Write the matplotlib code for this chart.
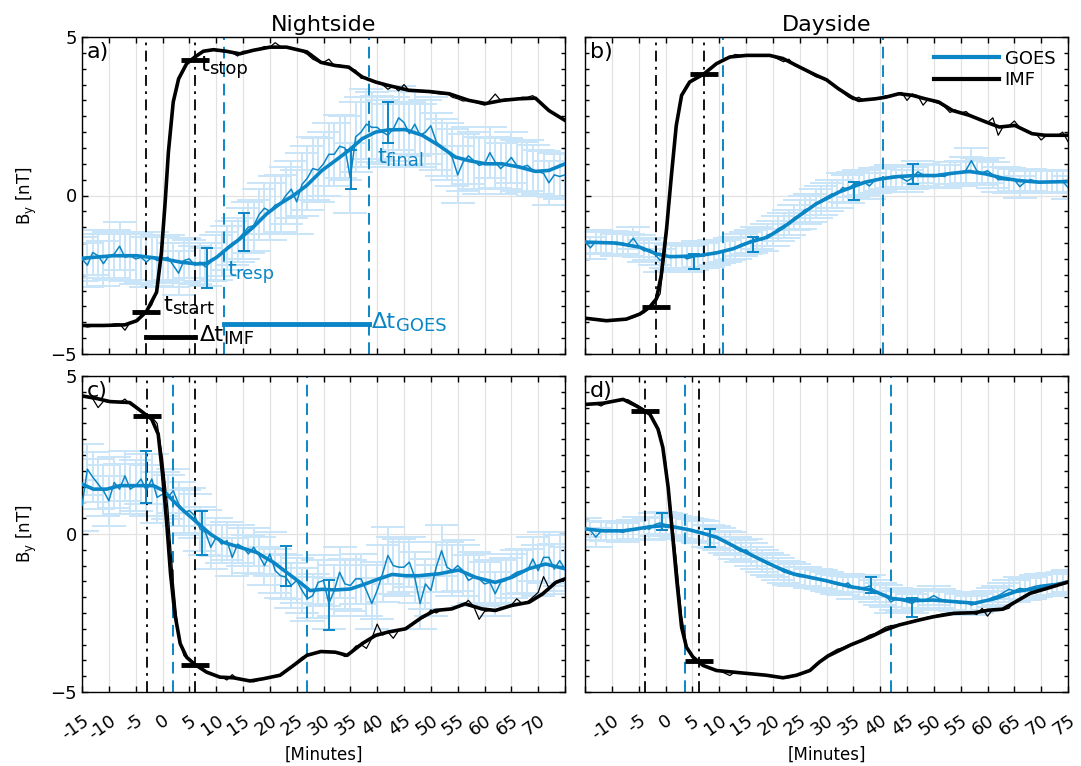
import matplotlib
matplotlib.use('Agg')
import matplotlib.pyplot as plt
from matplotlib.lines import Line2D
import numpy as np

plt.rcParams['mathtext.default'] = 'regular'
plt.rcParams['font.family'] = 'DejaVu Sans'

BLUE = '#0a86c6'
LIGHT = '#c9e5f7'

minutes = list(range(-15, 76))

# ---------------- panel a (nightside, By -> +) ----------------
a_imf_raw = [-4.1, -4.15, -4.12, -4.1, -4.08, -4.1, -4.05, -4.05, -4.25, -4.0,
             -3.95, -3.85, -3.68, -3.45, -3.0, -1.4, 1.1, 2.95, 3.68, 4.05,
             4.25, 4.4, 4.5, 4.58, 4.6, 4.57, 4.55, 4.52, 4.5, 4.4,
             4.55, 4.55, 4.6, 4.62, 4.7, 4.68, 4.82, 4.7, 4.68, 4.65,
             4.6, 4.55, 4.45, 4.3, 4.22, 4.2, 4.3, 4.1, 4.12, 4.05,
             4.0, 3.95, 3.7, 3.7, 3.6, 3.55, 3.5, 3.35, 3.45, 3.3,
             3.5, 3.3, 3.3, 3.28, 3.3, 3.25, 3.22, 3.2, 3.22, 3.1,
             3.05, 2.98, 3.0, 2.95, 2.9, 2.85, 3.0, 3.2, 3.0, 3.05,
             3.0, 3.05, 3.1, 3.1, 3.15, 3.0, 2.85, 2.7, 2.55, 2.45, 2.4]
a_goes_raw = [-2.0, -2.2, -1.8, -1.9, -2.15, -1.9, -1.85, -1.6, -1.95, -1.9,
              -2.0, -1.95, -2.1, -1.95, -2.05, -2.0, -1.95, -2.2, -2.45, -2.05,
              -2.0, -2.2, -2.1, -2.25, -2.1, -1.95, -1.85, -1.65, -1.5, -1.4,
              -1.2, -1.0, -0.95, -0.6, -0.4, -0.5, -0.3, -0.25, 0.0, 0.2,
              -0.2, 0.35, 0.55, 0.85, 0.8, 1.0, 1.3, 1.3, 1.55, 1.5,
              0.55, 1.85, 2.0, 2.25, 2.15, 2.15, 2.0, 1.9, 2.1, 2.45,
              2.3, 1.95, 2.25, 1.9, 2.0, 2.2, 1.7, 1.5, 1.4, 1.2,
              0.65, 1.05, 1.25, 1.1, 0.95, 1.0, 1.35, 1.05, 0.85, 1.0,
              1.2, 0.95, 0.9, 0.95, 0.8, 0.75, 0.7, 0.4, 0.65, 0.6, 0.65]
a_goes_err5 = [0.7, 0.75, 0.8, 0.7, 0.6, 0.7, 0.8, 0.9, 1.0, 1.0,
               1.1, 1.0, 1.0, 0.9, 0.9, 0.8, 0.8, 0.7, 0.7]
a_imf_t = [-15, -11, -7, -4.8, -3, -1.1, -0.2, 0.5, 1.1, 2.0, 3.0, 4.5, 6.05, 7.6,
           9.5, 11.9, 14.4, 16.9, 20, 23.1, 26.9, 29.5, 32.2, 34.7, 37.2, 39.7,
           42.1, 45.9, 49.7, 53.4, 57.1, 60.2, 63.3, 66.4, 69.5, 72, 75]
a_imf_s = [-4.1, -4.1, -4.08, -3.95, -3.66, -3.05, -1.8, -0.2, 1.37, 2.95, 3.68,
           4.16, 4.37, 4.55, 4.6, 4.55, 4.47, 4.58, 4.68, 4.68, 4.53, 4.2, 4.1,
           4.05, 3.74, 3.58, 3.47, 3.32, 3.28, 3.21, 3.0, 2.9, 3.0, 3.05, 3.07,
           2.68, 2.37]
a_goes_t = [-15, -9.2, -4.8, 0.2, 3.3, 6.4, 8.2, 10.1, 12, 14.4, 16.9, 19.4, 21.9,
            24.4, 26.9, 29.7, 32.2, 34.7, 37.2, 39.7, 42.1, 45.2, 48.4, 51.5,
            54.6, 57.1, 60.2, 63.3, 66.4, 69.5, 72, 75]
a_goes_s = [-1.98, -1.9, -1.9, -2.0, -2.1, -2.16, -2.14, -1.95, -1.68, -1.37, -1.0,
            -0.58, -0.26, 0.0, 0.32, 0.79, 1.1, 1.42, 1.79, 2.0, 2.07, 2.08, 1.9,
            1.58, 1.21, 1.1, 1.0, 1.0, 0.9, 0.76, 0.79, 1.0]
a_bar_t = [8.2, 15.1, 35.1, 42.1]
a_bar_y = [-2.28, -1.14, 0.82, 2.3]
a_bar_e = [0.63, 0.6, 0.63, 0.64]
a_times = [-3.0, 6.05, 11.5, 38.4]      # t_start, t_stop, t_resp, t_final
a_marks = [-3.66, 4.28]

# ---------------- panel b (dayside, By -> +) ----------------
b_imf_raw = [-3.87, -3.9, -3.92, -3.95, -3.97, -3.95, -3.93, -3.92, -3.9, -3.85,
             -3.78, -3.7, -3.55, -3.4, -3.1, -1.6, 0.4, 2.2, 3.16, 3.5,
             3.65, 3.75, 3.82, 3.95, 4.1, 4.22, 4.32, 4.37, 4.45, 4.42,
             4.42, 4.43, 4.42, 4.42, 4.42, 4.38, 4.3, 4.22, 4.3, 4.1,
             4.05, 3.95, 3.85, 3.75, 3.7, 3.62, 3.5, 3.4, 3.25, 3.12,
             3.02, 3.1, 3.0, 3.05, 3.03, 3.05, 3.15, 3.12, 3.2, 3.25,
             3.0, 3.2, 3.15, 2.85, 3.05, 2.95, 2.9, 2.8, 2.62, 2.7,
             2.6, 2.65, 2.5, 2.42, 2.35, 2.3, 2.45, 1.9, 2.2, 2.2,
             2.35, 2.15, 2.05, 1.95, 1.95, 1.75, 1.9, 1.9, 1.88, 2.0, 1.7]
b_goes_raw = [-1.45, -1.65, -1.45, -1.5, -1.5, -1.48, -1.55, -1.5, -1.55, -1.35,
              -1.6, -1.75, -1.7, -1.85, -2.05, -1.9, -1.95, -1.92, -1.9, -2.0,
              -1.95, -1.85, -1.9, -1.85, -1.8, -1.78, -1.75, -1.7, -1.65, -1.55,
              -1.5, -1.45, -1.35, -1.4, -1.25, -1.2, -1.05, -0.95, -0.85, -0.7,
              -0.6, -0.45, -0.4, -0.25, -0.15, -0.05, 0.05, 0.05, 0.25, 0.2,
              0.35, 0.4, 0.42, 0.3, 0.48, 0.5, 0.55, 0.6, 0.62, 0.55,
              0.45, 0.55, 0.75, 0.65, 0.62, 0.6, 0.62, 0.6, 0.7, 0.72,
              0.7, 0.8, 1.1, 0.78, 0.72, 0.78, 0.65, 0.5, 0.5, 0.48,
              0.5, 0.28, 0.42, 0.5, 0.45, 0.42, 0.42, 0.43, 0.44, 0.45, 0.25]
b_goes_err5 = [0.35, 0.35, 0.35, 0.4, 0.4, 0.35, 0.35, 0.4, 0.45, 0.45,
               0.4, 0.35, 0.35, 0.35, 0.4, 0.4, 0.35, 0.35, 0.35]
b_imf_t = [-15, -11, -7.3, -4.8, -3, -1.7, -0.8, 0.2, 1.1, 2.0, 3.0, 4.5, 7.2, 9.5,
           12, 15.1, 19.4, 21.9, 25, 28.1, 30, 32.2, 34.7, 36, 39.1, 41, 43.5, 46,
           48.4, 50.9, 53.5, 56.6, 59.7, 62.2, 65.1, 68.3, 70.7, 73.2, 75]
b_imf_s = [-3.87, -3.95, -3.9, -3.74, -3.53, -3.26, -2.53, -1.05, 0.63, 2.2, 3.16,
           3.58, 3.84, 4.16, 4.37, 4.42, 4.42, 4.32, 4.05, 3.79, 3.65, 3.37, 3.1,
           3.0, 3.05, 3.1, 3.21, 3.16, 3.05, 2.95, 2.68, 2.53, 2.32, 2.16, 2.21,
           1.95, 1.9, 1.9, 1.9]
b_goes_t = [-15, -9.2, -4.8, -1.7, 0.8, 3.3, 6.4, 9.5, 12.6, 15.7, 18.9, 22, 25,
            28.1, 30, 32.2, 34.7, 37.2, 40.3, 43.5, 46.6, 50.4, 53.4, 56.6, 59.7,
            62.8, 65.9, 69.6, 75]
b_goes_s = [-1.47, -1.5, -1.63, -1.84, -1.93, -1.92, -1.89, -1.81, -1.68, -1.47,
            -1.32, -1.0, -0.63, -0.26, -0.1, 0.1, 0.26, 0.42, 0.53, 0.6, 0.63, 0.63,
            0.7, 0.76, 0.68, 0.55, 0.47, 0.42, 0.44]
b_bar_t = [5.3, 16.3, 35.1, 46.2]
b_bar_y = [-2.08, -1.55, 0.15, 0.68]
b_bar_e = [0.24, 0.24, 0.29, 0.32]
b_times = [-1.8, 7.2, 10.7, 40.5]
b_marks = [-3.53, 3.84]

# ---------------- panel c (nightside, By -> -) ----------------
c_imf_raw = [4.37, 4.32, 4.28, 4.0, 4.2, 4.18, 4.17, 4.16, 4.27, 4.1,
             4.0, 3.9, 3.78, 3.7, 3.5, 2.4, 0.8, -1.5, -3.3, -3.85,
             -4.0, -4.13, -4.25, -4.35, -4.45, -4.5, -4.52, -4.62, -4.45, -4.6,
             -4.6, -4.65, -4.68, -4.62, -4.58, -4.55, -4.5, -4.48, -4.35, -4.2,
             -4.05, -3.9, -3.85, -3.8, -3.72, -3.7, -3.72, -3.75, -3.78, -3.88,
             -3.75, -3.55, -3.5, -3.62, -3.3, -2.85, -3.2, -3.1, -3.3, -3.05,
             -3.0, -2.9, -2.8, -2.7, -2.62, -2.4, -2.5, -2.4, -2.38, -2.35,
             -2.3, -2.25, -2.1, -2.3, -2.7, -2.45, -2.42, -2.42, -2.35, -2.3,
             -2.25, -2.05, -2.2, -2.15, -2.0, -1.85, -1.35, -1.7, -1.55, -1.48, -1.42]
c_goes_raw = [0.9, 2.05, 1.8, 1.58, 1.37, 1.05, 1.63, 1.42, 1.84, 1.42,
              1.53, 1.74, 1.37, 1.74, 1.16, 1.26, 1.16, 1.37, 0.95, 0.68,
              0.74, 0.58, 0.16, 0.05, -0.42, -0.1, -0.32, -0.21, -0.74, -0.32,
              -0.42, -0.63, -0.42, -0.68, -1.0, -0.63, -1.16, -1.32, -1.37, -1.63,
              -1.47, -1.79, -2.05, -1.95, -1.53, -1.47, -2.2, -1.79, -1.21, -1.58,
              -1.63, -1.42, -1.42, -1.79, -2.2, -1.79, -1.26, -0.68, -1.0, -1.05,
              -1.05, -0.89, -1.37, -2.2, -1.58, -1.79, -1.05, -0.53, -1.05, -1.16,
              -1.0, -1.16, -1.47, -1.37, -1.42, -1.58, -1.53, -1.89, -1.53, -1.47,
              -1.32, -1.21, -1.16, -1.16, -0.79, -1.16, -0.74, -0.74, -1.11, -0.84, -1.11]
c_goes_err5 = [0.8, 0.8, 0.8, 0.7, 0.7, 0.6, 0.6, 0.7, 0.7, 0.8,
               0.8, 0.9, 0.8, 0.8, 0.8, 0.7, 0.7, 0.8, 0.7]
c_imf_t = [-15, -12.3, -9.8, -6.1, -3.6, -2.0, -0.8, 0.0, 0.8, 1.5, 2.3, 3.3, 4.5,
           6.05, 8.2, 10.7, 13.2, 16.3, 18.8, 21.9, 24.4, 26.9, 29.5, 32.2, 34.4,
           37.2, 39.7, 42.1, 45.3, 48.4, 50.8, 53.9, 56.4, 59.5, 62, 65.1, 68.3,
           70.8, 73.3, 75]
c_imf_s = [4.37, 4.29, 4.19, 4.16, 3.84, 3.63, 3.16, 1.9, 0.32, -1.26, -2.53, -3.47,
           -3.9, -4.13, -4.37, -4.53, -4.55, -4.65, -4.58, -4.47, -4.16, -3.84,
           -3.72, -3.74, -3.84, -3.47, -3.21, -3.1, -3.0, -2.63, -2.42, -2.37,
           -2.21, -2.37, -2.42, -2.26, -2.16, -1.9, -1.53, -1.42]
c_goes_t = [-15, -12.9, -10.4, -7.9, -4.8, -1.7, 0.2, 2.0, 3.9, 6.4, 8.9, 11.3,
            14.4, 17.5, 20.6, 23.1, 25.6, 27.5, 29.8, 32.2, 35, 37.8, 40.3, 42.8,
            45.3, 47.7, 51.5, 55.2, 58.3, 62, 65.1, 68.2, 71.4, 75]
c_goes_s = [1.58, 1.42, 1.42, 1.53, 1.53, 1.53, 1.37, 1.05, 0.74, 0.37, 0.0, -0.26,
            -0.42, -0.58, -0.89, -1.21, -1.53, -1.79, -1.75, -1.77, -1.74, -1.58,
            -1.42, -1.28, -1.32, -1.32, -1.26, -1.14, -1.37, -1.53, -1.37, -1.1,
            -0.95, -1.1]
c_bar_t = [-3.0, 7.3, 23.1, 31.1]
c_bar_y = [1.8, 0.04, -1.0, -2.26]
c_bar_e = [0.83, 0.7, 0.63, 0.79]
c_times = [-2.95, 6.05, 2.0, 27.0]
c_marks = [3.74, -4.13]

# ---------------- panel d (dayside, By -> -) ----------------
d_imf_raw = [4.1, 4.12, 4.12, 4.05, 4.15, 4.2, 4.22, 4.26, 4.25, 4.15,
             4.05, 3.95, 3.8, 3.55, 3.2, 2.3, 0.8, -0.8, -2.6, -3.6,
             -3.85, -4.02, -4.16, -4.25, -4.3, -4.32, -4.4, -4.48, -4.35, -4.4,
             -4.42, -4.42, -4.45, -4.47, -4.48, -4.5, -4.52, -4.55, -4.55, -4.5,
             -4.45, -4.35, -4.3, -4.12, -4.0, -3.85, -3.75, -3.65, -3.6, -3.52,
             -3.45, -3.4, -3.3, -3.2, -3.15, -3.05, -2.95, -2.9, -2.88, -2.85,
             -2.8, -2.75, -2.72, -2.68, -2.62, -2.6, -2.55, -2.52, -2.5, -2.5,
             -2.48, -2.5, -2.48, -2.55, -2.35, -2.6, -2.38, -2.38, -2.4, -2.35,
             -2.15, -2.05, -1.95, -1.85, -1.8, -1.72, -1.68, -1.6, -1.62, -1.55, -1.5]
d_goes_raw = [0.2, 0.12, -0.1, 0.1, 0.08, 0.1, 0.12, 0.05, 0.12, 0.15,
              0.18, 0.2, 0.15, 0.3, 0.35, 0.3, 0.28, 0.22, 0.2, 0.15,
              0.12, 0.08, 0.05, -0.05, -0.1, -0.15, -0.25, -0.3, -0.45, -0.55,
              -0.5, -0.65, -0.75, -0.85, -0.95, -1.0, -1.1, -1.2, -1.25, -1.3,
              -1.35, -1.35, -1.4, -1.42, -1.45, -1.5, -1.55, -1.6, -1.62, -1.55,
              -1.7, -1.72, -1.7, -1.65, -1.8, -1.9, -1.95, -2.15, -2.05, -2.1,
              -2.15, -2.2, -2.05, -2.1, -2.05, -1.95, -2.05, -2.1, -2.12, -2.15,
              -2.2, -2.15, -2.25, -2.2, -2.15, -2.1, -2.0, -1.95, -1.85, -1.75,
              -1.8, -1.72, -1.75, -1.7, -1.65, -1.62, -1.6, -1.58, -1.6, -1.55, -1.5]
d_goes_err5 = [0.3, 0.3, 0.35, 0.35, 0.35, 0.35, 0.35, 0.35, 0.3, 0.3,
               0.35, 0.35, 0.3, 0.3, 0.3, 0.3, 0.35, 0.35, 0.35]
d_imf_t = [-15, -11.6, -7.9, -5.4, -2.9, -1.4, -0.5, 0.5, 1.3, 2.1, 3.0, 3.9, 5.1,
           7.0, 9.5, 12.6, 15.7, 18.8, 21.9, 24.4, 26.9, 28.7, 30.3, 34.5, 38.3,
           40.9, 43.5, 47.3, 49.9, 53.8, 57.6, 60.2, 62.8, 65.3, 67.9, 71.1, 75]
d_imf_s = [4.1, 4.14, 4.26, 4.05, 3.79, 3.32, 2.74, 1.47, 0.0, -1.47, -2.95, -3.58,
           -3.89, -4.16, -4.32, -4.37, -4.42, -4.47, -4.55, -4.47, -4.32, -4.05,
           -3.86, -3.51, -3.25, -3.04, -2.88, -2.72, -2.62, -2.51, -2.49, -2.41,
           -2.38, -2.14, -1.88, -1.72, -1.52]
d_goes_t = [-15, -11.6, -7.9, -5.4, -2.9, -0.5, 2.0, 4.5, 7.0, 9.5, 12, 14.4, 17.5,
            20.7, 23.8, 26.9, 30, 34.5, 38.3, 42.2, 46, 49.9, 53.8, 57.6, 61.5,
            65.3, 69.2, 75]
d_goes_s = [0.16, 0.1, 0.1, 0.16, 0.23, 0.26, 0.21, 0.13, 0.02, -0.1, -0.32, -0.53,
            -0.79, -1.05, -1.26, -1.37, -1.48, -1.67, -1.77, -2.04, -2.11, -2.09,
            -2.14, -2.19, -2.04, -1.82, -1.72, -1.52]
d_bar_t = [-0.7, 8.2, 38.2, 46.0]
d_bar_y = [0.39, -0.13, -1.62, -2.33]
d_bar_e = [0.26, 0.29, 0.25, 0.29]
d_times = [-3.75, 6.2, 3.7, 42.0]
d_marks = [3.89, -4.02]


def draw_panel(ax, imf_raw, goes_raw, goes_err5, imf_t, imf_s, goes_t, goes_s,
               bar_t, bar_y, bar_e, times, marks, letter):
    err = np.repeat(goes_err5, 5)[:len(minutes)]
    ax.errorbar(minutes, goes_raw, yerr=err, fmt='none', ecolor=LIGHT,
                elinewidth=1.4, capsize=12, capthick=1.4, zorder=1)
    ax.plot(minutes, goes_raw, color=BLUE, lw=1.1, zorder=3)
    ax.plot(goes_t, goes_s, color=BLUE, lw=2.6, zorder=4)
    ax.errorbar(bar_t, bar_y, yerr=bar_e, fmt='none', ecolor=BLUE,
                elinewidth=1.4, capsize=4, capthick=1.4, zorder=5)
    ax.plot(minutes, imf_raw, color='black', lw=0.9, zorder=3)
    ax.plot(imf_t, imf_s, color='black', lw=2.6, zorder=4)

    t_start, t_stop, t_resp, t_final = times
    ax.axvline(t_start, color='black', ls=(0, (6, 3, 1.5, 3)), lw=1.3, zorder=2)
    ax.axvline(t_stop, color='black', ls=(0, (6, 3, 1.5, 3)), lw=1.3, zorder=2)
    ax.axvline(t_resp, color=BLUE, ls=(0, (6, 3.5)), lw=1.4, zorder=2)
    ax.axvline(t_final, color=BLUE, ls=(0, (6, 3.5)), lw=1.4, zorder=2)
    ax.plot([t_start, t_stop], marks, ls='none', marker='_', ms=20, mew=3.5,
            color='black', zorder=6)

    ax.set_xlim(-15, 75)
    ax.set_ylim(-5, 5)
    ax.set_xticks(range(-15, 76, 5))
    ax.set_yticks([-5, 0, 5])
    ax.set_yticks(np.arange(-5, 5.01, 0.5), minor=True)
    ax.tick_params(which='both', direction='in', top=True, right=True,
                   labelsize=13, width=1)
    ax.tick_params(which='major', length=4)
    ax.tick_params(which='minor', length=3)
    ax.tick_params(axis='x', which='minor', top=False, bottom=False)
    ax.grid(True, which='major', color='#e2e2e2', lw=0.9)
    ax.set_axisbelow(True)
    for s in ax.spines.values():
        s.set_linewidth(1.0)
    ax.text(0.01, 0.985, letter, transform=ax.transAxes, fontsize=16,
            ha='left', va='top', zorder=7)


def sub_label(ax, x, y, main, sub, color):
    # MATLAB-style label: large base letter with a fairly large subscript
    base = ax.text(x, y, main, fontsize=16, va='center', ha='left',
                   color=color, zorder=7)
    ax.annotate(sub, xy=(1.0, 0.3), xycoords=base, fontsize=13, va='center',
                ha='left', color=color, zorder=7)


fig = plt.figure(figsize=(10.81, 7.66), dpi=100)
W, H = 1081, 766
ax_a = fig.add_axes([82 / W, 1 - 354 / H, 483 / W, 317 / H])
ax_b = fig.add_axes([585 / W, 1 - 354 / H, 483 / W, 317 / H])
ax_c = fig.add_axes([82 / W, 1 - 692 / H, 483 / W, 316 / H])
ax_d = fig.add_axes([585 / W, 1 - 692 / H, 483 / W, 316 / H])

draw_panel(ax_a, a_imf_raw, a_goes_raw, a_goes_err5, a_imf_t, a_imf_s, a_goes_t,
           a_goes_s, a_bar_t, a_bar_y, a_bar_e, a_times, a_marks, 'a)')
draw_panel(ax_b, b_imf_raw, b_goes_raw, b_goes_err5, b_imf_t, b_imf_s, b_goes_t,
           b_goes_s, b_bar_t, b_bar_y, b_bar_e, b_times, b_marks, 'b)')
draw_panel(ax_c, c_imf_raw, c_goes_raw, c_goes_err5, c_imf_t, c_imf_s, c_goes_t,
           c_goes_s, c_bar_t, c_bar_y, c_bar_e, c_times, c_marks, 'c)')
draw_panel(ax_d, d_imf_raw, d_goes_raw, d_goes_err5, d_imf_t, d_imf_s, d_goes_t,
           d_goes_s, d_bar_t, d_bar_y, d_bar_e, d_times, d_marks, 'd)')

# duration bars and labels in panel a
ax_a.plot(a_times[:2], [-4.47, -4.47], color='black', lw=3.5, zorder=6)
ax_a.plot(a_times[2:], [-4.05, -4.05], color=BLUE, lw=3.5, zorder=6)
sub_label(ax_a, 7.0, 4.12, 't', 'stop', 'black')
sub_label(ax_a, 0.15, -3.45, 't', 'start', 'black')
sub_label(ax_a, 6.9, -4.4, '\u0394t', 'IMF', 'black')
sub_label(ax_a, 12.0, -2.35, 't', 'resp', BLUE)
sub_label(ax_a, 40.0, 1.2, 't', 'final', BLUE)
sub_label(ax_a, 39.0, -3.98, '\u0394t', 'GOES', BLUE)

for ax in (ax_a, ax_b):
    ax.set_xticklabels([])
for ax in (ax_b, ax_d):
    ax.set_yticklabels([])
for ax in (ax_a, ax_c):
    ax.set_ylabel(r'B$_y$ [nT]', fontsize=12, labelpad=8)

left_labels = [str(v) for v in range(-15, 71, 5)] + ['']
right_labels = [''] + [str(v) for v in range(-10, 76, 5)]
for ax, labels in ((ax_c, left_labels), (ax_d, right_labels)):
    ax.set_xticklabels(labels, rotation=35, ha='right', rotation_mode='anchor')
    ax.tick_params(axis='x', pad=14)
    ax.set_xlabel('[Minutes]', fontsize=12, labelpad=2)

ax_a.set_title('Nightside', fontsize=16, pad=4)
ax_b.set_title('Dayside', fontsize=16, pad=4)

handles = [Line2D([], [], color=BLUE, lw=3), Line2D([], [], color='black', lw=3)]
ax_b.legend(handles, ['GOES', 'IMF'], loc='upper right', frameon=False,
            fontsize=13, handlelength=3.6, handletextpad=0.3,
            borderaxespad=0.3, labelspacing=0.2)

fig.savefig('out.png', dpi=100)
